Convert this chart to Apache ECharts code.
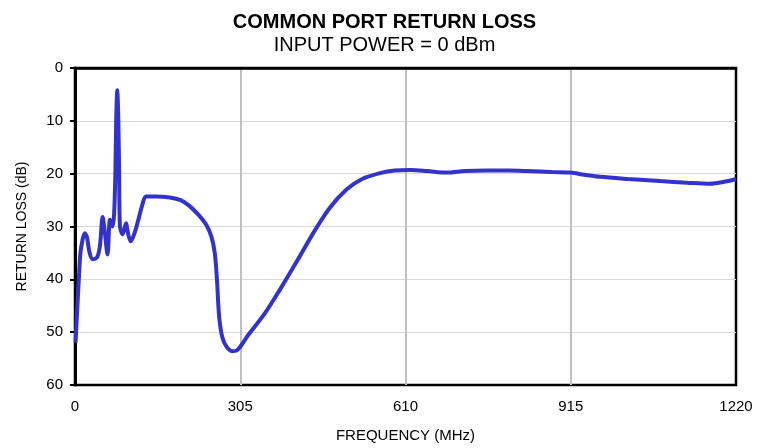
<!DOCTYPE html>
<html>
<head>
<meta charset="utf-8">
<script src="https://cdn.jsdelivr.net/npm/echarts@6/dist/echarts.min.js"></script>
<style>
  html, body { margin: 0; padding: 0; background: #fff; }
  #main { width: 769px; height: 448px; }
</style>
</head>
<body>
<div id="main"></div>
<script>
// frequency (MHz) and return loss (dB)
var freq = [1, 6, 10, 14, 18, 22, 27, 33, 41, 46, 51, 55, 60, 64.6, 69, 72, 74.5, 76, 78, 80, 81.5, 83, 88, 94, 98.5, 103, 110, 117, 124, 131,
  150, 175, 195, 210, 228, 243, 252, 258, 262, 266, 272, 280, 290, 298, 320, 350, 378, 410, 440, 470, 501, 530, 563, 590, 620, 650,
  686, 720, 760, 800, 834, 880, 914, 940, 969, 1020, 1080, 1130, 1172, 1200, 1220];
var loss = [52, 42, 35, 32.5, 31.3, 32, 35, 36.2, 35.8, 33.7, 28.2, 31, 35.3, 28.7, 30, 28, 20, 10, 4.2, 10, 20, 30, 31.5, 29.4, 31.6, 32.8, 31.2, 28.7, 26, 24.3,
  24.3, 24.5, 25, 26, 27.8, 29.8, 32, 35, 40, 47, 51, 52.8, 53.6, 53.5, 50.5, 46.5, 42, 36.5, 31.2, 26.5, 23, 21, 19.9, 19.4, 19.3, 19.5,
  19.8, 19.5, 19.4, 19.4, 19.5, 19.7, 19.8, 20.2, 20.6, 21, 21.4, 21.7, 21.9, 21.5, 21];
var xTicks = [0, 305, 610, 915, 1220];
var yTicks = [0, 10, 20, 30, 40, 50, 60];

var chart = echarts.init(document.getElementById('main'));

var points = [];
for (var i = 0; i < freq.length; i++) {
  points.push([freq[i], loss[i]]);
}

var option = {
  animation: false,
  title: {
    text: 'COMMON PORT RETURN LOSS',
    subtext: 'INPUT POWER = 0 dBm',
    left: 'center',
    top: 7,
    itemGap: 3,
    textStyle: { fontFamily: 'Liberation Sans', fontSize: 20, fontWeight: 'bold', color: '#000' },
    subtextStyle: { fontFamily: 'Liberation Sans', fontSize: 20, color: '#000' }
  },
  grid: {
    left: 75, right: 33, top: 68, bottom: 62,
    show: true,
    borderColor: '#000',
    borderWidth: 2.5
  },
  xAxis: {
    type: 'value',
    min: xTicks[0],
    max: xTicks[xTicks.length - 1],
    interval: 305,
    name: 'FREQUENCY (MHz)',
    nameLocation: 'middle',
    nameGap: 43,
    nameTextStyle: { fontFamily: 'Liberation Sans', fontSize: 15, color: '#000' },
    axisLine: { show: true, lineStyle: { color: '#000', width: 2.5 } },
    axisTick: { show: false },
    axisLabel: {
      margin: 14, fontFamily: 'Liberation Sans', fontSize: 15, color: '#000',
      formatter: function (v) { return String(v); }
    },
    splitLine: { show: true, showMinLine: false, showMaxLine: false, lineStyle: { color: '#c0c0c0', width: 2 } }
  },
  yAxis: {
    type: 'value',
    inverse: true,
    min: yTicks[0],
    max: yTicks[yTicks.length - 1],
    interval: 10,
    name: 'RETURN LOSS (dB)',
    nameLocation: 'middle',
    nameGap: 46,
    nameTextStyle: { fontFamily: 'Liberation Sans', fontSize: 14, color: '#000' },
    axisLine: { show: true, lineStyle: { color: '#000', width: 3 } },
    axisTick: { show: true, inside: false, length: 5, lineStyle: { color: '#000', width: 2 } },
    axisLabel: { margin: 12, fontFamily: 'Liberation Sans', fontSize: 15, color: '#000' },
    splitLine: { show: true, showMinLine: false, showMaxLine: false, lineStyle: { color: '#d9d9d9', width: 1 } }
  },
  series: [{
    type: 'line',
    data: points,
    smooth: 0.3,
    showSymbol: false,
    lineStyle: { color: '#3333cc', width: 4 }
  }]
};

chart.setOption(option);
</script>
</body>
</html>
